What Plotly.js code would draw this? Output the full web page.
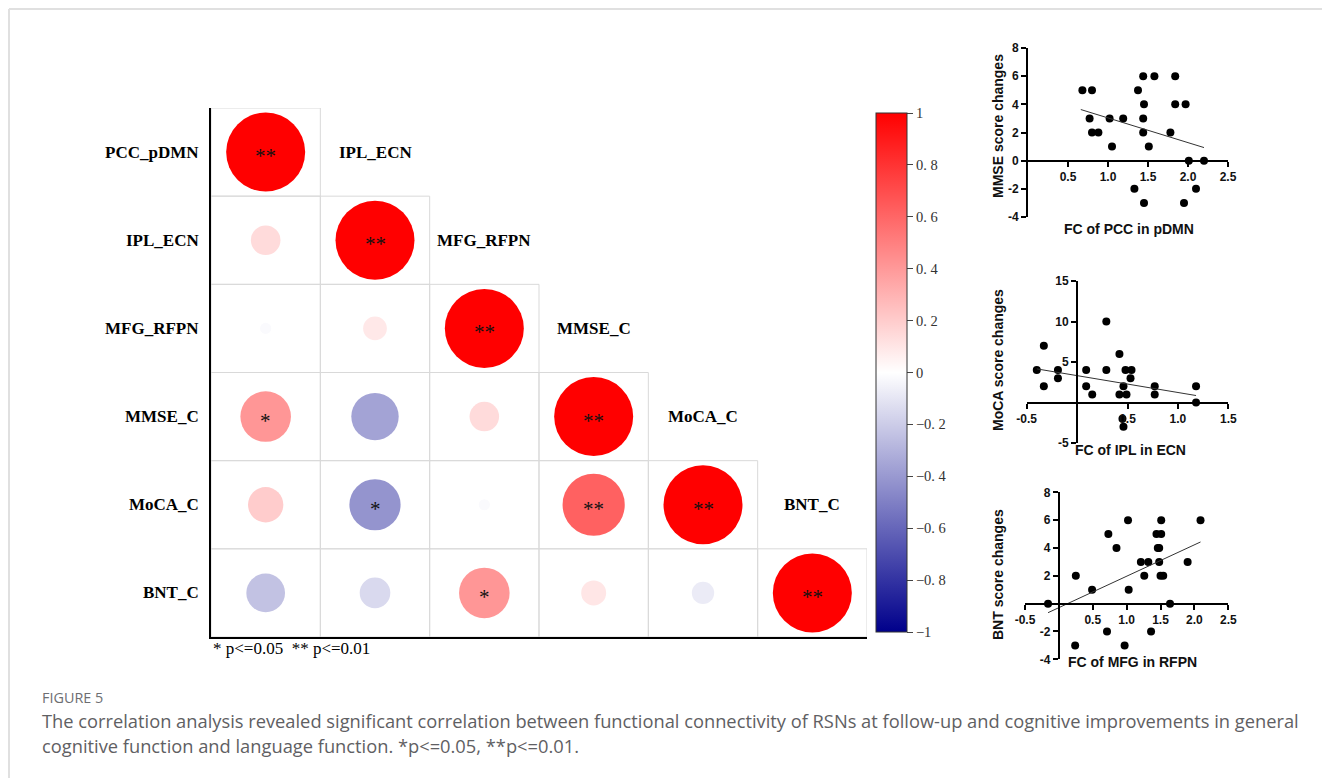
<!DOCTYPE html>
<html><head><meta charset="utf-8">
<script src="https://cdn.plot.ly/plotly-3.0.1.min.js"></script>
<style>html,body{margin:0;padding:0;background:#fff;} #chart{width:1322px;height:778px;}</style>
</head><body><div id="chart"></div>
<script>
const W = 1322, H = 778;

// ---------- correlation matrix data ----------
const labels = ['PCC_pDMN', 'IPL_ECN', 'MFG_RFPN', 'MMSE_C', 'MoCA_C', 'BNT_C'];
const corrRows = [
  [1],
  [0.14, 1],
  [-0.02, 0.09, 1],
  [0.41, -0.36, 0.14, 1],
  [0.20, -0.42, -0.02, 0.62, 1],
  [-0.24, -0.15, 0.41, 0.10, -0.08, 1]
];
const sigRows = [
  ['**'],
  ['', '**'],
  ['', '', '**'],
  ['*', '', '', '**'],
  ['', '*', '', '**', '**'],
  ['', '', '*', '', '', '**']
];
const cbTickVals = [-1, -0.8, -0.6, -0.4, -0.2, 0, 0.2, 0.4, 0.6, 0.8, 1];
const cbTickText = ['\u22121', '\u22120. 8', '\u22120. 6', '\u22120. 4', '\u22120. 2', '0', '0. 2', '0. 4', '0. 6', '0. 8', '1'];
const sigNote = '* p&lt;=0.05\u00a0\u00a0** p&lt;=0.01';

// ---------- scatter 1: FC of PCC in pDMN vs MMSE ----------
const pccFC   = [0.68, 0.80, 0.77, 0.80, 0.88, 1.02, 1.05, 1.19, 1.33, 1.375, 1.44, 1.44, 1.45, 1.44, 1.45, 1.51, 1.58, 1.78, 1.84, 1.84, 1.97, 2.01, 1.95, 2.10, 2.20];
const mmseChg = [5, 5, 3, 2, 2, 3, 1, 3, -2, 5, 6, 3, 4, 2, -3, 1, 6, 2, 6, 4, 4, 0, -3, -2, 0];
const pccFitX = [0.66, 2.20];
const pccFitY = [3.63, 0.93];

// ---------- scatter 2: FC of IPL in ECN vs MoCA ----------
const iplFC   = [-0.40, -0.33, -0.33, -0.19, -0.19, 0.09, 0.09, 0.15, 0.29, 0.29, 0.42, 0.42, 0.46, 0.45, 0.46, 0.49, 0.48, 0.54, 0.53, 0.77, 0.77, 1.18, 1.18];
const mocaChg = [4, 7, 2, 4, 3, 4, 2, 1, 10, 4, 6, 1, 2, -2, -3, 1, 4, 4, 3, 2, 1, 2, 0];
const iplFitX = [-0.40, 1.18];
const iplFitY = [4.15, 0.86];

// ---------- scatter 3: FC of MFG in RFPN vs BNT ----------
const mfgFC  = [-0.16, 0.25, 0.24, 0.49, 0.73, 0.71, 0.85, 1.02, 1.03, 0.97, 1.21, 1.32, 1.26, 1.36, 1.44, 1.51, 1.46, 1.48, 1.48, 1.50, 1.54, 1.51, 1.64, 1.90, 2.09];
const bntChg = [0, 2, -3, 1, 5, -2, 4, 6, 1, -3, 3, 3, 2, -2, 5, 5, 4, 4, 3, 2, 2, 6, 0, 3, 6];
const mfgFitX = [-0.16, 2.09];
const mfgFitY = [-0.65, 4.43];

// ---------- helpers ----------
const px = x => x / W;
const py = y => 1 - y / H;
const zeroPos = (dom, rng) => dom[0] + (0 - rng[0]) / (rng[1] - rng[0]) * (dom[1] - dom[0]);

// ---------- build matrix marks ----------
const cx = [], cy = [], cr = [], cs = [];
const shapes = [], annotations = [];
corrRows.forEach((row, i) => row.forEach((r, j) => {
  cx.push(j); cy.push(i); cr.push(r); cs.push(Math.abs(r));
  shapes.push({type: 'rect', xref: 'x', yref: 'y', x0: j - 0.5, x1: j + 0.5, y0: i - 0.5, y1: i + 0.5,
    line: {color: '#d9d9d9', width: 1}, layer: 'below'});
  if (sigRows[i][j]) {
    annotations.push({x: j, y: i, xref: 'x', yref: 'y', text: sigRows[i][j], showarrow: false,
      font: {family: 'Liberation Serif, Times New Roman, serif', size: 21, color: '#111'}, yshift: -4});
  }
}));
const serifBold = {family: 'Liberation Serif, Times New Roman, serif', size: 17, color: '#000', weight: 'bold'};
labels.forEach((lab, i) => {
  annotations.push({x: -0.5, y: i, xref: 'x', yref: 'y', text: lab, showarrow: false, xanchor: 'right', xshift: -10, font: serifBold});
  annotations.push({x: i, y: i - 1, xref: 'x', yref: 'y', text: lab, showarrow: false, font: serifBold});
});
annotations.push({x: px(211), y: py(648), xref: 'paper', yref: 'paper', xanchor: 'left', yanchor: 'middle', text: sigNote, showarrow: false,
  font: {family: 'Liberation Serif, Times New Roman, serif', size: 17, color: '#000'}});

// scatter axis titles
const sansBold = {family: 'Liberation Sans, Arial, sans-serif', size: 14, color: '#111', weight: 'bold'};
const titles = [
  {t: 'FC of PCC in pDMN', x: 1129, y: 229, a: 0},
  {t: 'FC of IPL in ECN', x: 1130, y: 450, a: 0},
  {t: 'FC of MFG in RFPN', x: 1132, y: 662, a: 0},
  {t: 'MMSE score changes', x: 998, y: 126, a: -90},
  {t: 'MoCA score changes', x: 998, y: 360, a: -90},
  {t: 'BNT score changes', x: 998, y: 575, a: -90}
];
titles.forEach(o => annotations.push({x: px(o.x), y: py(o.y), xref: 'paper', yref: 'paper', text: o.t, textangle: o.a,
  showarrow: false, xanchor: 'center', yanchor: 'middle', font: sansBold}));

// caption
const capFont = {family: 'Open Sans, sans-serif', size: 18.3, color: '#5f6063'};
annotations.push({x: px(40), y: py(697), xref: 'paper', yref: 'paper', xanchor: 'left', yanchor: 'middle', showarrow: false,
  text: 'FIGURE 5', font: {family: 'Open Sans, sans-serif', size: 14.4, color: '#6d6e71'}});
annotations.push({x: px(40), y: py(720), xref: 'paper', yref: 'paper', xanchor: 'left', yanchor: 'middle', showarrow: false,
  text: 'The correlation analysis revealed significant correlation between functional connectivity of RSNs at follow-up and cognitive improvements in general', font: capFont});
annotations.push({x: px(40), y: py(745), xref: 'paper', yref: 'paper', xanchor: 'left', yanchor: 'middle', showarrow: false,
  text: 'cognitive function and language function. *p&lt;=0.05, **p&lt;=0.01.', font: capFont});

// frame
shapes.push({type: 'line', xref: 'paper', yref: 'paper', x0: px(9), x1: 1, y0: py(9), y1: py(9), line: {color: '#e0e0e0', width: 2}});
shapes.push({type: 'line', xref: 'paper', yref: 'paper', x0: px(9), x1: px(9), y0: py(9), y1: 0, line: {color: '#e0e0e0', width: 2}});

// ---------- traces ----------
const matrixTrace = {
  type: 'scatter', mode: 'markers', x: cx, y: cy, xaxis: 'x', yaxis: 'y', hoverinfo: 'skip',
  marker: {
    size: cs, sizemode: 'area', sizeref: 1 / (2 * 39.5 * 39.5), opacity: 1,
    color: cr, cmin: -1, cmax: 1,
    colorscale: [[0, '#00008B'], [0.5, '#FFFFFF'], [1, '#FF0000']],
    line: {width: 0},
    showscale: true,
    colorbar: {
      x: px(876), xanchor: 'left', xpad: 0, ypad: 0,
      y: py((113 + 632) / 2), yanchor: 'middle', len: (632 - 113) / H, lenmode: 'fraction',
      thickness: 31, thicknessmode: 'pixels',
      outlinewidth: 1, outlinecolor: '#333',
      tickmode: 'array', tickvals: cbTickVals, ticktext: cbTickText,
      ticks: 'outside', ticklen: 6, tickwidth: 1, tickcolor: '#444',
      tickfont: {family: 'Liberation Serif, serif', size: 14.5, color: '#333'}
    }
  }
};
const dotStyle = {color: '#000', size: 8};
const lineStyle = {color: '#333', width: 1};
const traces = [
  matrixTrace,
  {type: 'scatter', mode: 'markers', x: pccFC, y: mmseChg, xaxis: 'x2', yaxis: 'y2', marker: dotStyle, cliponaxis: false},
  {type: 'scatter', mode: 'lines', x: pccFitX, y: pccFitY, xaxis: 'x2', yaxis: 'y2', line: lineStyle},
  {type: 'scatter', mode: 'markers', x: iplFC, y: mocaChg, xaxis: 'x3', yaxis: 'y3', marker: dotStyle, cliponaxis: false},
  {type: 'scatter', mode: 'lines', x: iplFitX, y: iplFitY, xaxis: 'x3', yaxis: 'y3', line: lineStyle},
  {type: 'scatter', mode: 'markers', x: mfgFC, y: bntChg, xaxis: 'x4', yaxis: 'y4', marker: dotStyle, cliponaxis: false},
  {type: 'scatter', mode: 'lines', x: mfgFitX, y: mfgFitY, xaxis: 'x4', yaxis: 'y4', line: lineStyle}
];

// ---------- axes ----------
const mAx = {showgrid: false, zeroline: false, showticklabels: false, ticks: '', showline: true, linecolor: '#000', linewidth: 2, fixedrange: true};
const sAx = {showgrid: false, zeroline: false, showline: true, linecolor: '#000', linewidth: 2,
  ticks: 'outside', ticklen: 5, tickwidth: 2, tickcolor: '#000', tickmode: 'array',
  tickfont: {family: 'Liberation Sans, Arial, sans-serif', size: 12, color: '#111', weight: 'bold'}, fixedrange: true};

const d2x = [px(1028), px(1228)], d2y = [py(217), py(48)], r2x = [0, 2.5], r2y = [-4, 8];
const d3x = [px(1026.7), px(1228.3)], d3y = [py(443), py(281)], r3x = [-0.5, 1.5], r3y = [-5, 15];
const d4x = [px(1025), px(1228.3)], d4y = [py(659.3), py(492.3)], r4x = [-0.5, 2.5], r4y = [-4, 8];

const layout = {
  width: W, height: H, margin: {l: 0, r: 0, t: 0, b: 0},
  paper_bgcolor: '#fff', plot_bgcolor: 'rgba(0,0,0,0)', showlegend: false,
  xaxis: Object.assign({}, mAx, {domain: [px(211), px(867)], range: [-0.5, 5.5], anchor: 'y'}),
  yaxis: Object.assign({}, mAx, {domain: [py(637), py(108)], range: [5.5, -0.5], anchor: 'x'}),

  xaxis2: Object.assign({}, sAx, {domain: d2x, range: r2x, anchor: 'free', position: zeroPos(d2y, r2y),
    tickvals: [0.5, 1, 1.5, 2, 2.5], ticktext: ['0.5', '1.0', '1.5', '2.0', '2.5']}),
  yaxis2: Object.assign({}, sAx, {domain: d2y, range: r2y, anchor: 'x2',
    tickvals: [-4, -2, 0, 2, 4, 6, 8], ticktext: ['-4', '-2', '0', '2', '4', '6', '8']}),

  xaxis3: Object.assign({}, sAx, {domain: d3x, range: r3x, anchor: 'free', position: zeroPos(d3y, r3y),
    tickvals: [-0.5, 0.5, 1, 1.5], ticktext: ['-0.5', '0.5', '1.0', '1.5']}),
  yaxis3: Object.assign({}, sAx, {domain: d3y, range: r3y, anchor: 'free', position: zeroPos(d3x, r3x),
    tickvals: [-5, 5, 10, 15], ticktext: ['-5', '5', '10', '15']}),

  xaxis4: Object.assign({}, sAx, {domain: d4x, range: r4x, anchor: 'free', position: zeroPos(d4y, r4y),
    tickvals: [-0.5, 0.5, 1, 1.5, 2, 2.5], ticktext: ['-0.5', '0.5', '1.0', '1.5', '2.0', '2.5']}),
  yaxis4: Object.assign({}, sAx, {domain: d4y, range: r4y, anchor: 'free', position: zeroPos(d4x, r4x),
    tickvals: [-4, -2, 2, 4, 6, 8], ticktext: ['-4', '-2', '2', '4', '6', '8']}),

  shapes: shapes,
  annotations: annotations
};

Plotly.newPlot('chart', traces, layout, {displayModeBar: false, staticPlot: true});
</script>
</body></html>
